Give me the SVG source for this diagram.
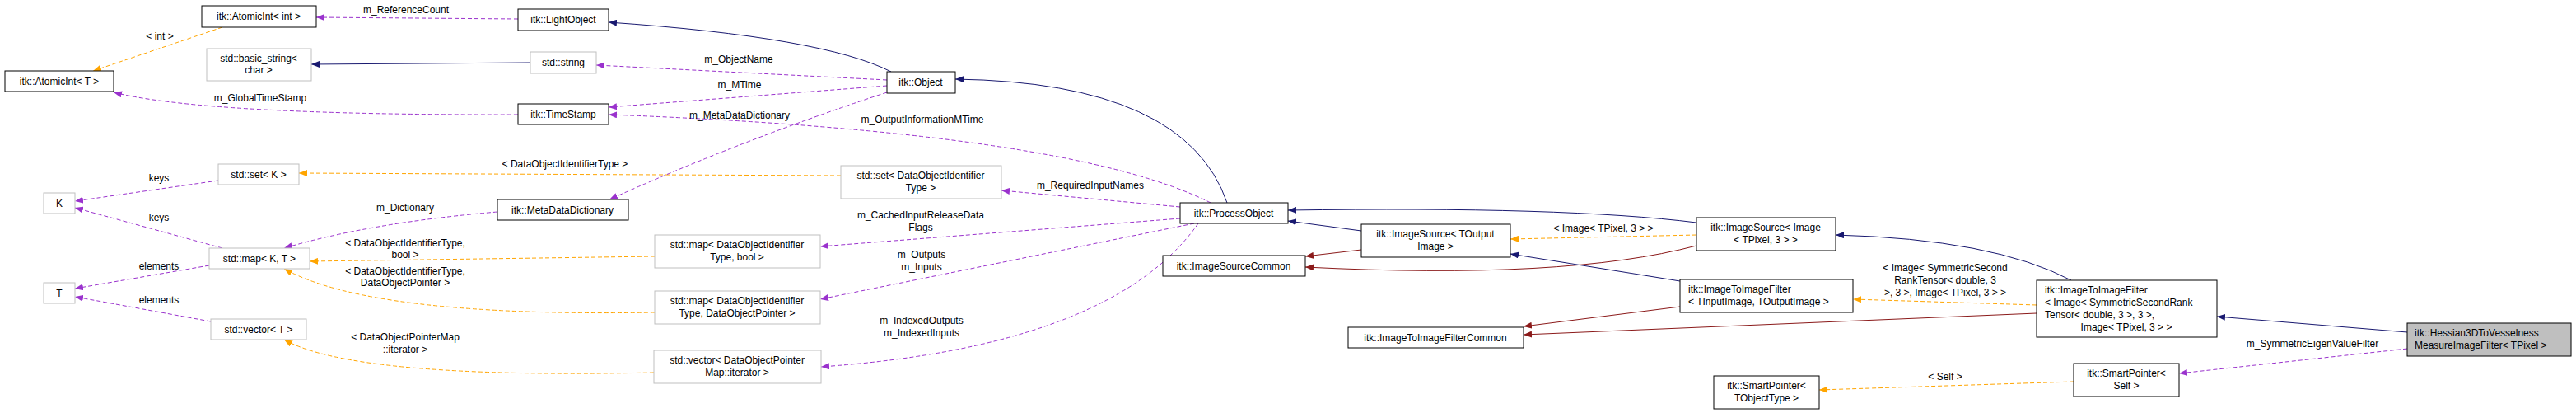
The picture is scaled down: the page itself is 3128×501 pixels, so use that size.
<svg xmlns="http://www.w3.org/2000/svg" width="3128" height="501" viewBox="0 0 3128 501">
<style>
text{font-family:"Liberation Sans",Arial,sans-serif;font-size:12px;fill:#000;text-anchor:middle}
.n rect{fill:#fff;stroke:#000;stroke-width:1}
.g rect{fill:#fff;stroke:#bfbfbf;stroke-width:1}
.h rect{fill:#bfbfbf;stroke:#000;stroke-width:1}
.b{fill:none;stroke:#191970;stroke-width:1}
.r{fill:none;stroke:#8b1a1a;stroke-width:1}
.o{fill:none;stroke:#ffa500;stroke-width:1;stroke-dasharray:5,3}
.p{fill:none;stroke:#9a32cd;stroke-width:1;stroke-dasharray:5,3}
</style>
<defs>
<marker id="mb" markerWidth="10" markerHeight="8" refX="10" refY="4" orient="auto" markerUnits="userSpaceOnUse"><path d="M0,0L10,4L0,8z" fill="#191970"/></marker>
<marker id="mr" markerWidth="10" markerHeight="8" refX="10" refY="4" orient="auto" markerUnits="userSpaceOnUse"><path d="M0,0L10,4L0,8z" fill="#8b1a1a"/></marker>
<marker id="mo" markerWidth="10" markerHeight="8" refX="10" refY="4" orient="auto" markerUnits="userSpaceOnUse"><path d="M0,0L10,4L0,8z" fill="#ffa500"/></marker>
<marker id="mp" markerWidth="10" markerHeight="8" refX="10" refY="4" orient="auto" markerUnits="userSpaceOnUse"><path d="M0,0L10,4L0,8z" fill="#9a32cd"/></marker>
</defs>
<g id="connectors">
<path class="b" marker-end="url(#mb)" d="M1082,87 Q1000,45 739,27"/>
<path class="b" marker-end="url(#mb)" d="M644,76 L378,78"/>
<path class="b" marker-end="url(#mb)" d="M1490,246 Q1440,100 1160,96"/>
<path class="b" marker-end="url(#mb)" d="M1653,280 L1564,268"/>
<path class="b" marker-end="url(#mb)" d="M2060,270 Q1900,250 1564,255"/>
<path class="b" marker-end="url(#mb)" d="M2040,341 L1834,308"/>
<path class="b" marker-end="url(#mb)" d="M2515,340 Q2420,290 2229,285"/>
<path class="b" marker-end="url(#mb)" d="M2923,403 L2692,384"/>
<path class="r" marker-end="url(#mr)" d="M1653,303 L1585,311"/>
<path class="r" marker-end="url(#mr)" d="M2060,298 Q1900,340 1585,324"/>
<path class="r" marker-end="url(#mr)" d="M2040,372 L1850,396"/>
<path class="r" marker-end="url(#mr)" d="M2473,380 L1850,406"/>
<path class="o" marker-end="url(#mo)" d="M270,33 L113,86"/>
<path class="o" marker-end="url(#mo)" d="M1021,213 L363,210"/>
<path class="o" marker-end="url(#mo)" d="M795,311 L376,317"/>
<path class="o" marker-end="url(#mo)" d="M795,379 Q450,385 345,326"/>
<path class="o" marker-end="url(#mo)" d="M794,452 Q430,460 345,412"/>
<path class="o" marker-end="url(#mo)" d="M2060,285 L1834,290"/>
<path class="o" marker-end="url(#mo)" d="M2473,370 L2250,363"/>
<path class="o" marker-end="url(#mo)" d="M2518,463 L2209,473"/>
<path class="p" marker-end="url(#mp)" d="M629,23 L384,21"/>
<path class="p" marker-end="url(#mp)" d="M1077,97 L724,79"/>
<path class="p" marker-end="url(#mp)" d="M1077,104 L739,130"/>
<path class="p" marker-end="url(#mp)" d="M1077,112 Q900,170 740,242"/>
<path class="p" marker-end="url(#mp)" d="M629,139 Q250,140 138,112"/>
<path class="p" marker-end="url(#mp)" d="M1470,246 Q1300,160 739,139"/>
<path class="p" marker-end="url(#mp)" d="M1433,251 L1216,231"/>
<path class="p" marker-end="url(#mp)" d="M1433,265 L996,299"/>
<path class="p" marker-end="url(#mp)" d="M1450,271 L996,363"/>
<path class="p" marker-end="url(#mp)" d="M1455,271 Q1350,420 997,445"/>
<path class="p" marker-end="url(#mp)" d="M604,257 Q450,270 345,301"/>
<path class="p" marker-end="url(#mp)" d="M265,219 L91,244"/>
<path class="p" marker-end="url(#mp)" d="M270,301 L91,252"/>
<path class="p" marker-end="url(#mp)" d="M254,322 L91,350"/>
<path class="p" marker-end="url(#mp)" d="M256,390 L91,360"/>
<path class="p" marker-end="url(#mp)" d="M2923,423 L2646,453"/>
<text x="194" y="48">&lt; int &gt;</text>
<text x="686" y="203">&lt; DataObjectIdentifierType &gt;</text>
<text x="492" y="299">&lt; DataObjectIdentifierType,</text><text x="492" y="313">bool &gt;</text>
<text x="492" y="333">&lt; DataObjectIdentifierType,</text><text x="492" y="347">DataObjectPointer &gt;</text>
<text x="492" y="413">&lt; DataObjectPointerMap</text><text x="492" y="428">::iterator &gt;</text>
<text x="1947" y="281">&lt; Image&lt; TPixel, 3 &gt; &gt;</text>
<text x="2362" y="329">&lt; Image&lt; SymmetricSecond</text><text x="2362" y="344">RankTensor&lt; double, 3</text><text x="2362" y="359">&gt;, 3 &gt;, Image&lt; TPixel, 3 &gt; &gt;</text>
<text x="2362" y="461">&lt; Self &gt;</text>
<text x="493" y="16">m_ReferenceCount</text>
<text x="897" y="76">m_ObjectName</text>
<text x="898" y="107">m_MTime</text>
<text x="898" y="144">m_MetaDataDictionary</text>
<text x="316" y="123">m_GlobalTimeStamp</text>
<text x="1120" y="149">m_OutputInformationMTime</text>
<text x="1324" y="229">m_RequiredInputNames</text>
<text x="1118" y="265">m_CachedInputReleaseData</text><text x="1118" y="280">Flags</text>
<text x="1119" y="313">m_Outputs</text><text x="1119" y="328">m_Inputs</text>
<text x="1119" y="393">m_IndexedOutputs</text><text x="1119" y="408">m_IndexedInputs</text>
<text x="492" y="256">m_Dictionary</text>
<text x="193" y="220">keys</text>
<text x="193" y="268">keys</text>
<text x="193" y="327">elements</text>
<text x="193" y="368">elements</text>
<text x="2808" y="421">m_SymmetricEigenValueFilter</text>
</g>
<g id="AtomicIntInt" class="n"><rect x="245" y="7" width="139" height="26"/><text x="314" y="24">itk::AtomicInt&lt; int &gt;</text></g>
<g id="LightObject" class="n"><rect x="629" y="11" width="110" height="26"/><text x="684" y="28">itk::LightObject</text></g>
<g id="AtomicIntT" class="n"><rect x="6" y="86" width="132" height="25"/><text x="72" y="103">itk::AtomicInt&lt; T &gt;</text></g>
<g id="BasicString" class="g"><rect x="251" y="59" width="127" height="39"/><text x="314" y="75">std::basic_string&lt;</text><text x="314" y="89">char &gt;</text></g>
<g id="StdString" class="g"><rect x="644" y="63" width="80" height="26"/><text x="684" y="80">std::string</text></g>
<g id="TimeStamp" class="n"><rect x="629" y="126" width="110" height="25"/><text x="684" y="143">itk::TimeStamp</text></g>
<g id="SetK" class="g"><rect x="265" y="199" width="98" height="25"/><text x="314" y="216">std::set&lt; K &gt;</text></g>
<g id="K" class="g"><rect x="53" y="234" width="38" height="25"/><text x="72" y="251">K</text></g>
<g id="MetaDataDictionary" class="n"><rect x="604" y="242" width="159" height="25"/><text x="683" y="259">itk::MetaDataDictionary</text></g>
<g id="MapKT" class="g"><rect x="254" y="301" width="122" height="25"/><text x="315" y="318">std::map&lt; K, T &gt;</text></g>
<g id="T" class="g"><rect x="53" y="343" width="38" height="25"/><text x="72" y="360">T</text></g>
<g id="VectorT" class="g"><rect x="256" y="387" width="116" height="25"/><text x="314" y="404">std::vector&lt; T &gt;</text></g>
<g id="Object" class="n"><rect x="1077" y="87" width="83" height="26"/><text x="1118" y="104">itk::Object</text></g>
<g id="SetDOI" class="g"><rect x="1021" y="201" width="195" height="40"/><text x="1118" y="217">std::set&lt; DataObjectIdentifier</text><text x="1118" y="232">Type &gt;</text></g>
<g id="ProcessObject" class="n"><rect x="1433" y="246" width="131" height="25"/><text x="1498" y="263">itk::ProcessObject</text></g>
<g id="ImageSourceCommon" class="n"><rect x="1412" y="310" width="173" height="25"/><text x="1498" y="327">itk::ImageSourceCommon</text></g>
<g id="MapBool" class="g"><rect x="795" y="285" width="201" height="40"/><text x="895" y="301">std::map&lt; DataObjectIdentifier</text><text x="895" y="316">Type, bool &gt;</text></g>
<g id="MapDOP" class="g"><rect x="795" y="353" width="201" height="40"/><text x="895" y="369">std::map&lt; DataObjectIdentifier</text><text x="895" y="384">Type, DataObjectPointer &gt;</text></g>
<g id="VectorDOP" class="g"><rect x="794" y="425" width="203" height="40"/><text x="895" y="441">std::vector&lt; DataObjectPointer</text><text x="895" y="456">Map::iterator &gt;</text></g>
<g id="ImageSourceTOutput" class="n"><rect x="1653" y="272" width="181" height="40"/><text x="1743" y="288">itk::ImageSource&lt; TOutput</text><text x="1743" y="303">Image &gt;</text></g>
<g id="ImageSourceImage" class="n"><rect x="2060" y="264" width="169" height="40"/><text x="2144" y="280">itk::ImageSource&lt; Image</text><text x="2144" y="295">&lt; TPixel, 3 &gt; &gt;</text></g>
<g id="ImageToImageFilterT" class="n"><rect x="2040" y="339" width="210" height="40"/><text x="2050" y="355" style="text-anchor:start">itk::ImageToImageFilter</text><text x="2050" y="370" style="text-anchor:start">&lt; TInputImage, TOutputImage &gt;</text></g>
<g id="ImageToImageFilterCommon" class="n"><rect x="1637" y="397" width="213" height="25"/><text x="1743" y="414">itk::ImageToImageFilterCommon</text></g>
<g id="SmartPointerT" class="n"><rect x="2081" y="456" width="128" height="40"/><text x="2145" y="472">itk::SmartPointer&lt;</text><text x="2145" y="487">TObjectType &gt;</text></g>
<g id="ImageToImageFilterSym" class="n"><rect x="2473" y="340" width="219" height="69"/><text x="2483" y="356" style="text-anchor:start">itk::ImageToImageFilter</text><text x="2483" y="371" style="text-anchor:start">&lt; Image&lt; SymmetricSecondRank</text><text x="2483" y="386" style="text-anchor:start">Tensor&lt; double, 3 &gt;, 3 &gt;,</text><text x="2582" y="401">Image&lt; TPixel, 3 &gt; &gt;</text></g>
<g id="Hessian" class="h"><rect x="2923" y="392" width="199" height="40"/><text x="2932" y="408" style="text-anchor:start">itk::Hessian3DToVesselness</text><text x="2932" y="423" style="text-anchor:start">MeasureImageFilter&lt; TPixel &gt;</text></g>
<g id="SmartPointerSelf" class="n"><rect x="2518" y="441" width="128" height="40"/><text x="2582" y="457">itk::SmartPointer&lt;</text><text x="2582" y="472">Self &gt;</text></g>
</svg>
